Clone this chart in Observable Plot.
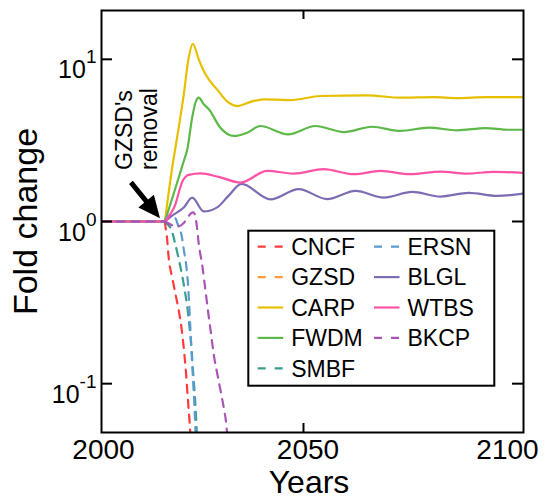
<!DOCTYPE html>
<html><head><meta charset="utf-8">
<script src="https://cdn.jsdelivr.net/npm/d3@7"></script>
<script src="https://cdn.jsdelivr.net/npm/@observablehq/plot@0.6"></script>
<style>
body{margin:0;background:#fff;}
#chart{position:relative;width:545px;height:499px;}
svg{font-family:"Liberation Sans",Arial,Helvetica,sans-serif;}
</style></head><body><div id="chart"></div>
<script>
// ---- data ----
const xTicks = [2004.1, 2050, 2100];
const xTickLabels = ["2000", "2050", "2100"];
const yTicks = [0.1, 1, 10];
const yTickExponents = ["-1", "0", "1"];
const removalYear = 2018.5;

const series = ["CNCF","GZSD","CARP","FWDM","SMBF","ERSN","BLGL","WTBS","BKCP"];
const colors = ["#ff3b3b","#ff9a3a","#e6c000","#5cb847","#3a9e8c","#5b9bd2","#7d6cb3","#ff52a6","#a955b5"];
const dashed = [true,true,false,false,true,true,false,false,true];

const CNCF = [[2004.1,1],[2018.5,1],[2018.7,0.90],[2018.93,0.82],[2019.39,0.59],[2020.16,0.452],[2020.91,0.357],[2021.66,0.282],[2022.27,0.222],[2022.8,0.165],[2023.3,0.117],[2023.75,0.079],[2024.16,0.056],[2024.32,0.047]];
const GZSD = [[2004.1,1],[2018.5,1]];
const CARP = [[2004.1,1],[2018.5,1],[2020.4,2.36],[2020.9,2.85],[2022.8,6.08],[2023.9,10.2],[2024.85,12.45],[2026.2,9.98],[2027.7,8.11],[2030.4,6.5],[2033.0,5.40],[2034.9,5.15],[2038.0,5.47],[2041.0,5.67],[2047.0,5.61],[2053.9,5.94],[2064.5,6.0],[2072.0,5.80],[2079.5,5.85],[2085.0,5.77],[2091.7,5.85],[2100,5.85]];
const FWDM = [[2004.1,1],[2018.5,1],[2022.8,2.36],[2023.6,2.79],[2024.7,4.37],[2025.45,5.40],[2026.2,5.80],[2027.3,5.30],[2028.5,4.92],[2031.1,3.79],[2034.2,3.37],[2037.2,3.53],[2040.2,3.88],[2046.5,3.45],[2052.7,3.88],[2059.2,3.56],[2065.6,3.84],[2072.0,3.62],[2078.5,3.79],[2084.9,3.65],[2091.4,3.77],[2096.5,3.68],[2100,3.68]];
const SMBF = [[2004.1,1],[2018.5,1],[2019.09,0.961],[2020.0,0.889],[2020.68,0.761],[2021.59,0.598],[2022.39,0.470],[2023.07,0.369],[2023.64,0.290],[2024.09,0.225],[2024.55,0.165],[2024.89,0.121],[2025.23,0.091],[2025.52,0.068],[2025.75,0.050],[2025.86,0.0435]];
const ERSN = [[2004.1,1],[2018.5,1],[2019.09,1.069],[2019.77,1.092],[2020.45,1.076],[2021.02,1.032],[2021.66,0.919],[2022.27,0.828],[2022.8,0.670],[2023.41,0.521],[2023.75,0.414],[2023.98,0.325],[2024.32,0.213],[2024.7,0.133],[2024.95,0.100],[2025.3,0.0655],[2025.45,0.0515],[2025.55,0.0447]];
const BLGL = [[2004.1,1],[2018.5,1],[2019.77,1.069],[2022.8,1.219],[2024.7,1.405],[2027.34,1.155],[2030.39,1.223],[2032.95,1.439],[2035.9,1.706],[2042.5,1.37],[2048.93,1.583],[2055.39,1.374],[2061.82,1.545],[2068.25,1.405],[2074.7,1.523],[2081.14,1.425],[2087.57,1.502],[2094.02,1.439],[2100,1.487]];
const WTBS = [[2004.1,1],[2018.5,1],[2019.77,1.115],[2020.91,1.28],[2021.7,1.52],[2022.43,1.755],[2023.18,1.884],[2023.93,1.938],[2026.6,1.98],[2030.75,1.884],[2035.68,1.738],[2041.75,2.051],[2047.8,1.974],[2054.6,2.101],[2061.43,1.957],[2067.5,2.051],[2074.3,1.957],[2081.14,2.031],[2087.2,1.974],[2093.25,2.022],[2100,1.994]];
const BKCP = [[2004.1,1],[2018.5,1],[2019.32,0.975],[2020.45,0.941],[2021.59,0.934],[2022.73,0.975],[2023.64,1.054],[2024.43,1.123],[2024.89,1.139],[2025.34,1.10],[2025.84,0.902],[2026.2,0.729],[2026.98,0.541],[2027.73,0.375],[2028.41,0.267],[2028.98,0.204],[2029.61,0.151],[2030.39,0.116],[2031.14,0.091],[2031.89,0.071],[2032.43,0.057],[2032.77,0.0447]];

const seriesData = [CNCF, GZSD, CARP, FWDM, SMBF, ERSN, BLGL, WTBS, BKCP];

// annotation anchor (data coords)
const arrowFrom = [2010.9, 1.73];
const arrowTo = [2017.5, 1.04];

// ---- marks ----
const lineMarks = [];
seriesData.forEach((d, i) => {
  const style = {
    x: p => p[0], y: p => p[1],
    stroke: colors[i], strokeWidth: 2.2,
    strokeDasharray: dashed[i] ? "8,7" : null,
    clip: true
  };
  const pre = d.filter(p => p[0] <= removalYear);
  const post = d.filter(p => p[0] >= removalYear);
  lineMarks.push(Plot.line(pre, {...style, curve: "linear"}));
  if (post.length > 1) lineMarks.push(Plot.line(post, {...style, curve: "monotone-x"}));
});

const plot = Plot.plot({
  width: 545, height: 499,
  marginTop: 10, marginRight: 22, marginBottom: 67, marginLeft: 101,
  style: {fontFamily: "Liberation Sans, Arial, sans-serif", background: "white", color: "black"},
  x: {domain: [2004.1, 2100]},
  y: {type: "log", domain: [0.05, 20]},
  marks: [
    ...lineMarks,
    Plot.frame({stroke: "black", strokeWidth: 2}),
    Plot.tickX([2050], {insetTop: 413, stroke: "black", strokeWidth: 2}),
    Plot.tickX([2050], {insetBottom: 413, stroke: "black", strokeWidth: 2}),
    Plot.tickY(yTicks, {insetRight: 411, stroke: "black", strokeWidth: 2}),
    Plot.tickY(yTicks, {insetLeft: 411, stroke: "black", strokeWidth: 2}),
    Plot.axisX({ticks: xTicks, tickSize: 0, tickPadding: 7, fontSize: 28, label: null,
      tickFormat: d => xTickLabels[xTicks.indexOf(d)]}),
    Plot.axisY({ticks: yTicks, tickSize: 0, tickPadding: 5, fontSize: 25, label: null,
      tickFormat: () => "10"})
  ]
});

document.getElementById("chart").appendChild(plot);
const svg = d3.select(plot);

// superscript exponents on y tick labels
svg.selectAll('g[aria-label="y-axis tick label"] text').each(function(_, i) {
  const t = d3.select(this);
  t.text(null).attr("dy", "0.44em");
  t.append("tspan").text("10");
  t.append("tspan").attr("dy", -15).attr("font-size", 19).text(yTickExponents[i]);
});
// x tick label nudges to match reference
const xLabelNudge = [2, 4.5, -16];
svg.selectAll('g[aria-label="x-axis tick label"] text').each(function(_, i) {
  d3.select(this).attr("dx", xLabelNudge[i]);
});

// axis titles
svg.append("text").attr("transform", "translate(37,221.5) rotate(-90)")
  .attr("text-anchor", "middle").attr("font-size", 34).attr("fill", "black").text("Fold change");
svg.append("text").attr("x", 309).attr("y", 493)
  .attr("text-anchor", "middle").attr("font-size", 32).attr("fill", "black").text("Years");

// annotation
const xs = plot.scale("x"), ys = plot.scale("y");
const tail = [xs.apply(arrowFrom[0]), ys.apply(arrowFrom[1])];
const tip = [xs.apply(arrowTo[0]), ys.apply(arrowTo[1])];
const dx = tip[0] - tail[0], dy = tip[1] - tail[1], L = Math.hypot(dx, dy);
const ux = dx / L, uy = dy / L, nx = -uy, ny = ux;
const headLen = 22, headHalf = 10;
const base = [tip[0] - headLen * ux, tip[1] - headLen * uy];
svg.append("line").attr("x1", tail[0]).attr("y1", tail[1]).attr("x2", base[0] + 2 * ux).attr("y2", base[1] + 2 * uy)
  .attr("stroke", "black").attr("stroke-width", 5);
svg.append("path").attr("d", `M${tip[0]},${tip[1]}L${base[0] + headHalf * nx},${base[1] + headHalf * ny}L${base[0] - headHalf * nx},${base[1] - headHalf * ny}Z`)
  .attr("fill", "black");
svg.append("text").attr("transform", "translate(131.7,170) rotate(-90)")
  .attr("text-anchor", "start").attr("font-size", 23).attr("fill", "black").text("GZSD's");
svg.append("text").attr("transform", "translate(156.7,170) rotate(-90)")
  .attr("text-anchor", "start").attr("font-size", 23).attr("fill", "black").text("removal");

// legend
const lg = svg.append("g");
lg.append("rect").attr("x", 248.3).attr("y", 230.7).attr("width", 246).attr("height", 155)
  .attr("fill", "white").attr("stroke", "black").attr("stroke-width", 2);
series.forEach((name, i) => {
  const col = i < 5 ? 0 : 1, row = i < 5 ? i : i - 5;
  const sx = col ? 374 : 257.7;
  const cy = 246.7 + row * 30.4;
  lg.append("line").attr("x1", sx).attr("x2", sx + 25.5).attr("y1", cy).attr("y2", cy)
    .attr("stroke", colors[i]).attr("stroke-width", 2.2)
    .attr("stroke-dasharray", dashed[i] ? "8,9" : null);
  lg.append("text").attr("x", sx + 33.5).attr("y", cy + 8.2).attr("font-size", 23)
    .attr("text-anchor", "start").attr("fill", "black").text(name);
});
</script>
</body></html>
